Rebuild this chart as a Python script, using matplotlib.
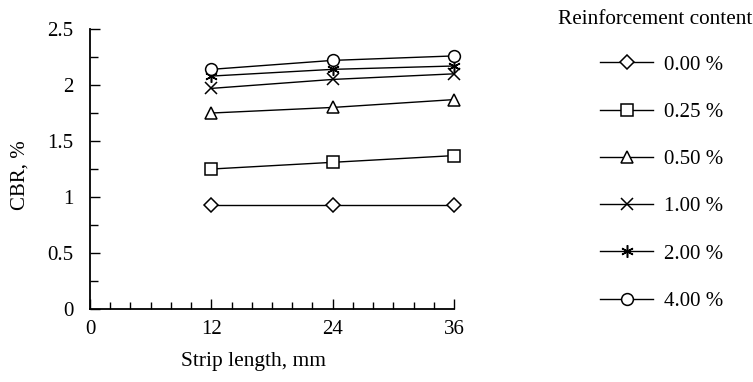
import matplotlib
matplotlib.use("Agg")
import matplotlib.pyplot as plt
from matplotlib.ticker import MultipleLocator

plt.rcParams['font.family'] = ['Liberation Serif', 'DejaVu Serif']

# Strip length (mm) and CBR (%) for each reinforcement content
strip_length = [12, 24, 36]
cbr_000 = [0.93, 0.93, 0.93]
cbr_025 = [1.25, 1.31, 1.37]
cbr_050 = [1.75, 1.80, 1.87]
cbr_100 = [1.97, 2.05, 2.10]
cbr_200 = [2.08, 2.14, 2.17]
cbr_400 = [2.14, 2.22, 2.26]
labels = ["0.00 %", "0.25 %", "0.50 %", "1.00 %", "2.00 %", "4.00 %"]
markers = ["D", "s", "^", "x", (6, 2, 0), "o"]

fig = plt.figure(figsize=(7.53, 3.82), dpi=100)
ax = fig.add_axes([0.1195, 0.191, 0.4835, 0.733])

series = [cbr_000, cbr_025, cbr_050, cbr_100, cbr_200, cbr_400]
sizes = [7, 8, 9, 9, 9, 8.5]
for vals, lab, mk, ms in zip(series, labels, markers, sizes):
    ax.plot(strip_length, vals, color="black", lw=1, marker=mk, ms=ms,
            mfc="white", mec="black", mew=1.1, label=lab, clip_on=False)

ax.set_xlim(0, 36)
ax.set_ylim(0, 2.5)
ax.xaxis.set_major_locator(MultipleLocator(12))
ax.xaxis.set_minor_locator(MultipleLocator(2))
ax.yaxis.set_major_locator(MultipleLocator(0.5))
ax.yaxis.set_minor_locator(MultipleLocator(0.25))
ax.yaxis.set_major_formatter(plt.FuncFormatter(lambda v, p: "%g" % v))
ax.tick_params(which="both", direction="in", labelsize=15, width=1)
ax.tick_params(which="major", length=7)
ax.tick_params(which="minor", length=5)
ax.tick_params(axis="y", which="minor", length=6)
ax.tick_params(axis="y", which="major", pad=12)
ax.tick_params(axis="x", which="major", pad=8)
for s in ["top", "right"]:
    ax.spines[s].set_visible(False)
for s in ["left", "bottom"]:
    ax.spines[s].set_linewidth(1.3)

ax.set_xlabel("Strip length, mm", fontsize=15.5)
ax.set_ylabel("CBR, %", fontsize=15)
ax.xaxis.set_label_coords(0.448, -0.152)
ax.yaxis.set_label_coords(-0.165, 0.48)

# legend title as separate text, entries below it
fig.text(655 / 753, 1 - 19 / 382, "Reinforcement content", fontsize=15.3,
         ha="center", va="center")
fig.legend(loc="upper left", bbox_to_anchor=(600 / 753, 1 - 55 / 382),
           frameon=False, fontsize=15, handlelength=2.55,
           handletextpad=0.5, labelspacing=1.33, borderpad=0,
           borderaxespad=0, markerscale=1.0)

fig.savefig("out.png", dpi=100)
